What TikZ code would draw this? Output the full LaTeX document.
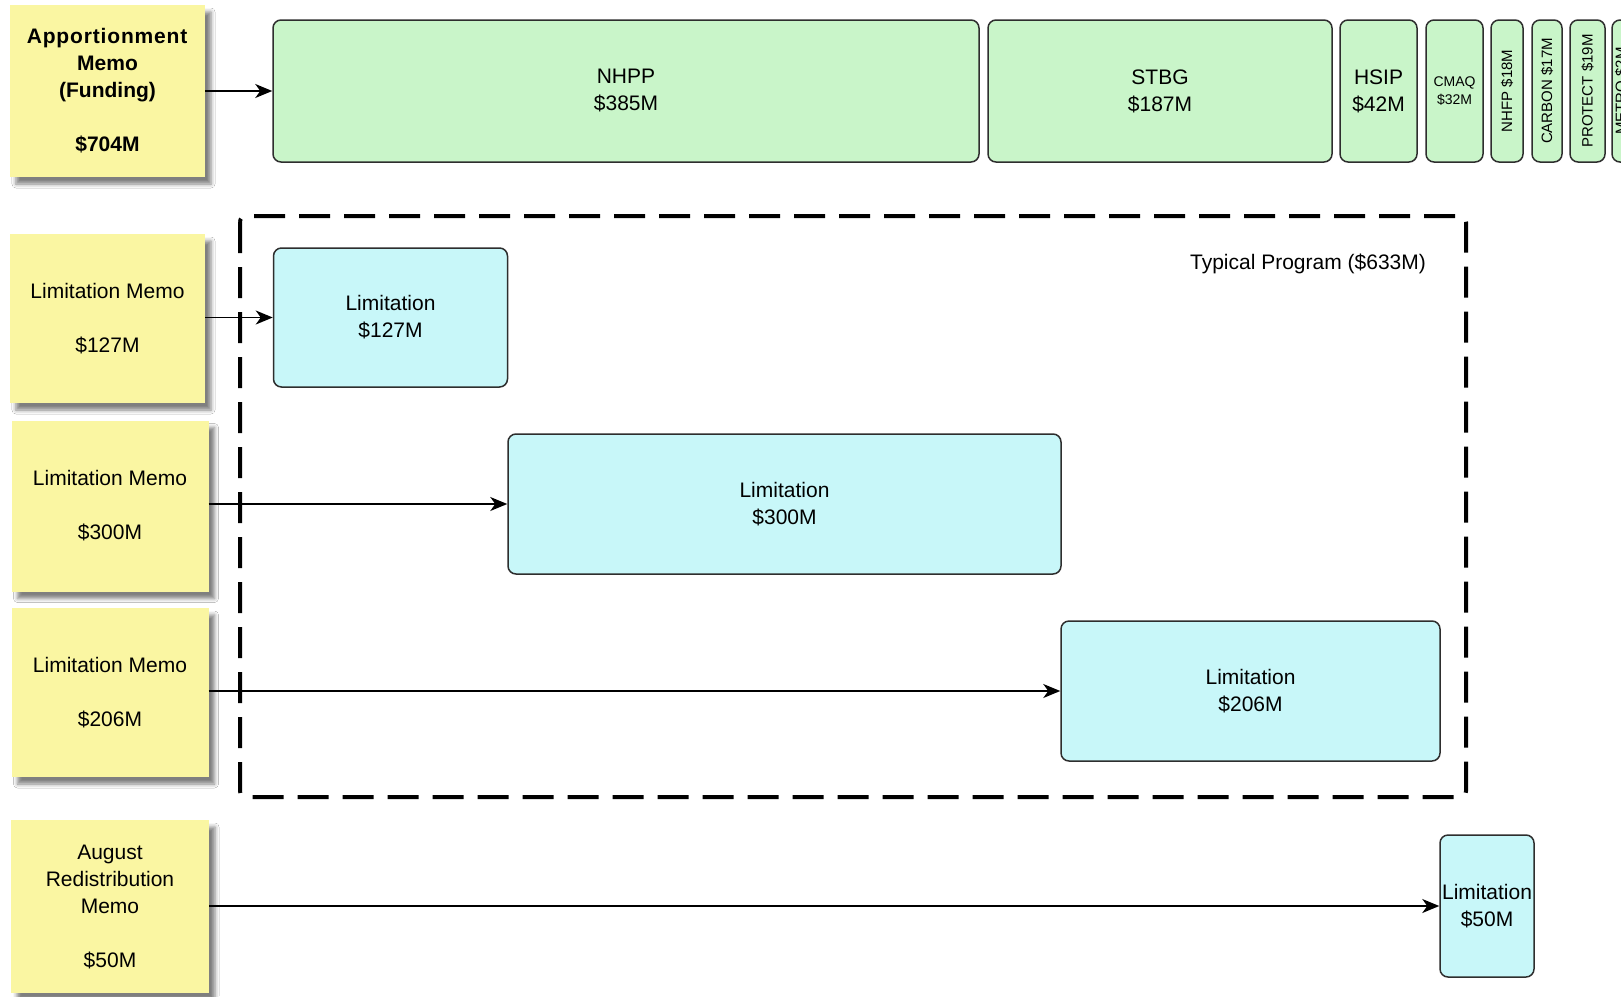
\documentclass[tikz,border=0pt]{standalone}
\usepackage{fontspec}
\setmainfont{Liberation Sans}
\usetikzlibrary{arrows.meta,shadows.blur}
\definecolor{memoyel}{HTML}{FAF6A2}
\definecolor{fundgreen}{HTML}{C9F5C9}
\definecolor{limcyan}{HTML}{C8F7F9}
\definecolor{edgegray}{HTML}{2E2E2E}
\tikzset{
  memo/.style={fill=memoyel, inner sep=0pt, align=center,
    font=\fontsize{21}{27}\selectfont,
    blur shadow={shadow xshift=6pt, shadow yshift=-7pt, shadow blur radius=4pt, shadow opacity=50}},
  fundbox/.style={draw=edgegray, line width=1.5pt, fill=fundgreen, rounded corners=8pt,
    inner sep=0pt, align=center, font=\fontsize{21}{27}\selectfont},
  limbox/.style={draw=edgegray, line width=1.5pt, fill=limcyan, rounded corners=8pt,
    inner sep=0pt, align=center, font=\fontsize{21}{27}\selectfont},
  vlabel/.style={rotate=90, font=\fontsize{15}{17}\selectfont, inner sep=0pt},
  flow/.style={line width=1.5pt, -{Stealth[length=17pt,width=14pt,inset=5pt]}},
  progbox/.style={draw=black, line width=4pt, dash pattern=on 31pt off 14pt, rounded corners=6pt}
}
\begin{document}
\begin{tikzpicture}[x=1pt,y=-1pt]
\clip (0,0) rectangle (1621,996);
\fill[white] (0,0) rectangle (1621,996);

% dashed program frame
\draw[progbox] (240,216) rectangle (1466,797);
\node[font=\fontsize{21}{27}\selectfont] (prog) at (1308,264) {Typical Program (\$633M)};

% memo boxes
\node[memo, minimum width=195pt, minimum height=172pt] (m1) at (107.5,91)
  {\addfontfeature{LetterSpace=4}\textbf{Apportionment}\\\textbf{Memo}\\\textbf{(Funding)}\\[27pt]\textbf{\$704M}};
\node[memo, minimum width=195pt, minimum height=169pt] (m2) at (107.5,318.5)
  {Limitation Memo\\[27pt]\$127M};
\node[memo, minimum width=197pt, minimum height=171pt] (m3) at (110,506)
  {Limitation Memo\\[27pt]\$300M};
\node[memo, minimum width=197pt, minimum height=169pt] (m4) at (110,692.5)
  {Limitation Memo\\[27pt]\$206M};
\node[memo, minimum width=198pt, minimum height=173pt] (m5) at (110,906.5)
  {August\\Redistribution\\Memo\\[27pt]\$50M};

% funding boxes
\node[fundbox, minimum width=706pt, minimum height=142pt] (nhpp) at (626,91) {NHPP\\\$385M};
\node[fundbox, minimum width=344pt, minimum height=142pt] (stbg) at (1160,91) {STBG\\\$187M};
\node[fundbox, minimum width=77pt, minimum height=142pt] (hsip) at (1378.5,91) {HSIP\\\$42M};
\node[fundbox, minimum width=57pt, minimum height=142pt, font=\fontsize{14}{18}\selectfont] (cmaq) at (1454.5,91) {CMAQ\\\$32M};
\node[fundbox, minimum width=32pt, minimum height=142pt] (nhfp) at (1507,91) {};
\node[vlabel] (nhfpt) at (nhfp.center) {NHFP \$18M};
\node[fundbox, minimum width=30pt, minimum height=142pt] (carbon) at (1547,91) {};
\node[vlabel] (carbont) at (carbon.center) {CARBON \$17M};
\node[fundbox, minimum width=35pt, minimum height=142pt] (protect) at (1587.5,91) {};
\node[vlabel] (protectt) at (protect.center) {PROTECT \$19M};
\node[fundbox, minimum width=30pt, minimum height=142pt] (metro) at (1627,91) {};
\node[vlabel] (metrot) at (1621,91) {METRO \$2M};

% limitation boxes
\node[limbox, minimum width=234pt, minimum height=139pt] (l127) at (390.5,317.5) {Limitation\\\$127M};
\node[limbox, minimum width=553pt, minimum height=140pt] (l300) at (784.5,504) {Limitation\\\$300M};
\node[limbox, minimum width=379pt, minimum height=140pt] (l206) at (1250.5,691) {Limitation\\\$206M};
\node[limbox, minimum width=94pt, minimum height=142pt] (l50) at (1487,906) {Limitation\\\$50M};

% connectors
\draw[flow] (m1.east) -- (nhpp.west);
\draw[flow] (m2.east |- l127.west) -- (l127.west);
\draw[flow] (m3.east |- l300.west) -- (l300.west);
\draw[flow] (m4.east |- l206.west) -- (l206.west);
\draw[flow] (m5.east |- l50.west) -- (l50.west);
\end{tikzpicture}
\end{document}
